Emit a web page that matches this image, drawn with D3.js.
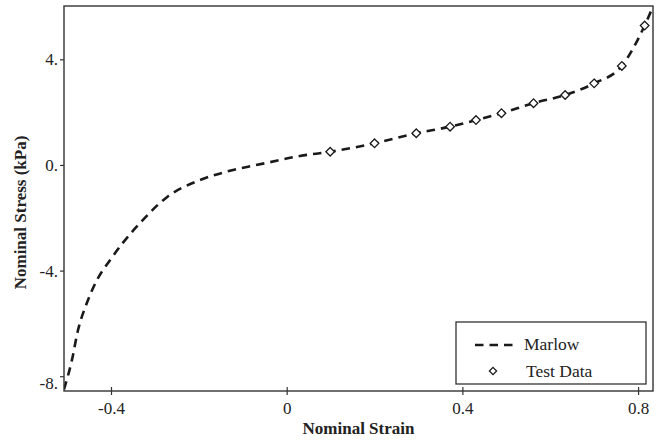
<!DOCTYPE html>
<html>
<head>
<meta charset="utf-8">
<script src="https://cdn.jsdelivr.net/npm/d3@7/dist/d3.min.js"></script>
<style>
  html, body { margin: 0; padding: 0; background: #fff; }
  svg { display: block; }
  text { font-family: "Liberation Serif", "Times New Roman", serif; fill: #222; }
</style>
</head>
<body>
<svg id="chart" width="657" height="441"></svg>
<script>
// ---- data ----
const curveStrain = [-0.507, -0.489, -0.475, -0.455, -0.432, -0.402, -0.373, -0.334, -0.272, -0.197, -0.122, -0.045, 0.030, 0.099, 0.200, 0.295, 0.372, 0.431, 0.489, 0.562, 0.634, 0.700, 0.763, 0.815, 0.834];
const curveStress = [-8.50, -7.39, -6.25, -5.23, -4.36, -3.60, -2.95, -2.20, -1.21, -0.57, -0.19, 0.08, 0.34, 0.50, 0.82, 1.20, 1.45, 1.70, 1.96, 2.34, 2.65, 3.09, 3.75, 5.28, 6.00];
const testStrain = [0.099, 0.200, 0.295, 0.372, 0.431, 0.489, 0.562, 0.634, 0.700, 0.763, 0.815];
const testStress = [0.50, 0.82, 1.20, 1.45, 1.70, 1.96, 2.34, 2.65, 3.09, 3.75, 5.28];
const xTicks = [-0.4, 0, 0.4, 0.8];
const xTickLabels = ["-0.4", "0", "0.4", "0.8"];
const yTicks = [4, 0, -4, -8];
const yTickLabels = ["4.", "0.", "-4.", "-8."];
const seriesNames = ["Marlow", "Test Data"];

// ---- layout ----
const L = 64, R = 653, T = 6, B = 391;
const svg = d3.select("#chart");
const x = d3.scaleLinear().domain([-0.507, 0.834]).range([L, R]);
const y = d3.scaleLinear().domain([-8.56, 6.02]).range([B, T]);

svg.append("defs").append("clipPath").attr("id", "clip")
  .append("rect").attr("x", L).attr("y", T).attr("width", R - L).attr("height", B - T);

// curve
const line = d3.line().x(d => x(d[0])).y(d => y(d[1])).curve(d3.curveMonotoneX);
const curveData = curveStrain.map((s, i) => [s, curveStress[i]]);
svg.append("path").datum(curveData)
  .attr("clip-path", "url(#clip)")
  .attr("d", line)
  .attr("fill", "none").attr("stroke", "#1a1a1a")
  .attr("stroke-width", 2.6).attr("stroke-dasharray", "8.5,6");

// markers
const diamond = r => `M0,${-r}L${r},0L0,${r}L${-r},0Z`;
svg.append("g").selectAll("path").data(testStrain.map((s, i) => [s, testStress[i]]))
  .join("path")
  .attr("transform", d => `translate(${x(d[0])},${y(d[1])})`)
  .attr("d", diamond(4.3))
  .attr("fill", "#fff").attr("stroke", "#1a1a1a").attr("stroke-width", 1.3);

// frame
svg.append("rect").attr("x", L).attr("y", T).attr("width", R - L).attr("height", B - T)
  .attr("fill", "none").attr("stroke", "#333").attr("stroke-width", 1.4);

// x axis
const xAxis = svg.append("g").attr("transform", `translate(0,${B})`)
  .call(d3.axisBottom(x).tickValues(xTicks).tickFormat((d, i) => xTickLabels[i]).tickSizeOuter(0).tickSize(4).tickPadding(7));
xAxis.select(".domain").remove();
xAxis.selectAll(".tick line").attr("y1", -4).attr("y2", 4).attr("stroke", "#333").attr("stroke-width", 1.2);
xAxis.selectAll(".tick text").attr("font-size", 17).attr("font-family", "Liberation Serif").attr("fill", "#222");

// y axis
const yAxis = svg.append("g").attr("transform", `translate(${L},0)`)
  .call(d3.axisLeft(y).tickValues(yTicks).tickFormat((d, i) => yTickLabels[i]).tickSizeOuter(0).tickSize(4).tickPadding(2));
yAxis.select(".domain").remove();
yAxis.selectAll(".tick line").attr("stroke", "#333").attr("stroke-width", 1.2);
yAxis.selectAll(".tick text").attr("font-size", 17).attr("font-family", "Liberation Serif").attr("fill", "#222");
// bottom label sits lower, next to the axis corner, as in the reference
yAxis.selectAll(".tick text").filter(d => d === -8).attr("dy", "0.75em");

// axis titles
svg.append("text").attr("x", (L + R) / 2).attr("y", 434)
  .attr("text-anchor", "middle").attr("font-size", 17).attr("font-weight", "bold")
  .text("Nominal Strain");
svg.append("text").attr("transform", `translate(26,${(T + B) / 2 + 14}) rotate(-90)`)
  .attr("text-anchor", "middle").attr("font-size", 17).attr("font-weight", "bold")
  .text("Nominal Stress (kPa)");

// legend
const lg = svg.append("g");
lg.append("rect").attr("x", 456).attr("y", 322).attr("width", 190).attr("height", 62)
  .attr("fill", "#fff").attr("stroke", "#333").attr("stroke-width", 1.3);
lg.append("line").attr("x1", 475).attr("x2", 513).attr("y1", 345).attr("y2", 345)
  .attr("stroke", "#1a1a1a").attr("stroke-width", 2.6).attr("stroke-dasharray", "8.5,6");
lg.append("text").attr("x", 524).attr("y", 350).attr("font-size", 17.5).text(seriesNames[0]);
lg.append("path").attr("transform", "translate(493,371)").attr("d", diamond(3.6))
  .attr("fill", "#fff").attr("stroke", "#1a1a1a").attr("stroke-width", 1.3);
lg.append("text").attr("x", 526).attr("y", 377).attr("font-size", 17.5).text(seriesNames[1]);
</script>
</body>
</html>
